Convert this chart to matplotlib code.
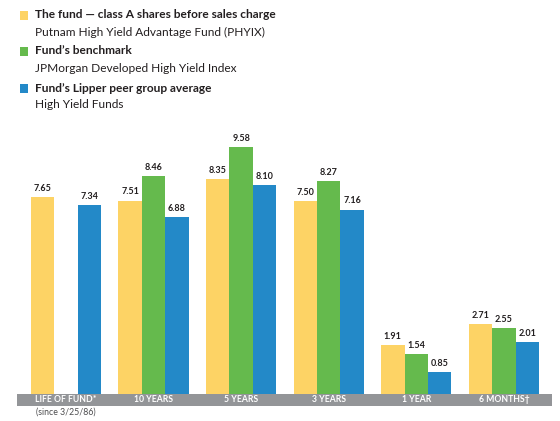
import matplotlib
matplotlib.use("Agg")
import matplotlib.pyplot as plt
from matplotlib.patches import Rectangle
import numpy as np

plt.rcParams['font.family'] = ['Lato', 'DejaVu Sans']

categories = ["LIFE OF FUND*", "10 YEARS", "5 YEARS", "3 YEARS", "1 YEAR", "6 MONTHS\u2020"]
fund = [7.65, 7.51, 8.35, 7.50, 1.91, 2.71]
benchmark = [None, 8.46, 9.58, 8.27, 1.54, 2.55]
lipper = [7.34, 6.88, 8.10, 7.16, 0.85, 2.01]

series_names = ["The fund \u2014 class A shares before sales charge",
                "Fund\u2019s benchmark",
                "Fund\u2019s Lipper peer group average"]
series_subs = ["Putnam High Yield Advantage Fund (PHYIX)",
               "JPMorgan Developed High Yield Index",
               "High Yield Funds"]
colors = ["#FDD365", "#65BA4D", "#2389C8"]
band_color = "#939598"
text_color = "#231F20"

W, H = 560, 421
fig = plt.figure(figsize=(W / 100, H / 100), dpi=100)
ax_left, ax_right = 17, 552
ax_bottom_px, ax_top_px = 394, 130
ax = fig.add_axes([ax_left / W, (H - ax_bottom_px) / H,
                   (ax_right - ax_left) / W, (ax_bottom_px - ax_top_px) / H])

x = np.arange(len(categories))
bw = 0.268
for i, (vals, c) in enumerate(zip([fund, benchmark, lipper], colors)):
    for xi, v in zip(x, vals):
        if v is None:
            continue
        pos = xi + (i - 1) * bw
        ax.bar(pos, v, width=bw, color=c, linewidth=0)
        ax.annotate(f"{v:.2f}", (pos, v), xytext=(0, 3), textcoords="offset points",
                    ha="center", va="bottom", fontsize=6.5, fontweight="bold",
                    color=text_color)

ax.set_xlim(-0.56, 5.55)
ax.set_ylim(0, 10.25)
ax.axis("off")

# grey band with category labels
band_h = 12 / (ax_bottom_px - ax_top_px)
ax.add_patch(Rectangle((0, -band_h), 1, band_h, transform=ax.transAxes,
                       color=band_color, clip_on=False, linewidth=0))
trans = ax.get_xaxis_transform()
for xi, lab in zip(x, categories):
    ax.text(xi, -band_h / 2, lab, transform=trans, ha="center", va="center",
            fontsize=6.2, fontweight="bold", color="white")
ax.text(x[0], -band_h - 0.005, "(since 3/25/86)", transform=trans, ha="center",
        va="top", fontsize=6.3, color="#4d4d4f")

# legend at top
leg_y = [15, 51, 88]
for yy, name, sub, c in zip(leg_y, series_names, series_subs, colors):
    fig.patches.append(Rectangle((19.5 / W, 1 - (yy + 4.5) / H), 8.5 / W, 8.5 / H,
                                 transform=fig.transFigure, color=c, linewidth=0))
    fig.text(35 / W, 1 - yy / H, name, ha="left", va="center", fontsize=8.6,
             fontweight="bold", color=text_color)
    fig.text(35 / W, 1 - (yy + 17) / H, sub, ha="left", va="center", fontsize=8.6,
             color=text_color)

fig.savefig("out.png", dpi=100)
